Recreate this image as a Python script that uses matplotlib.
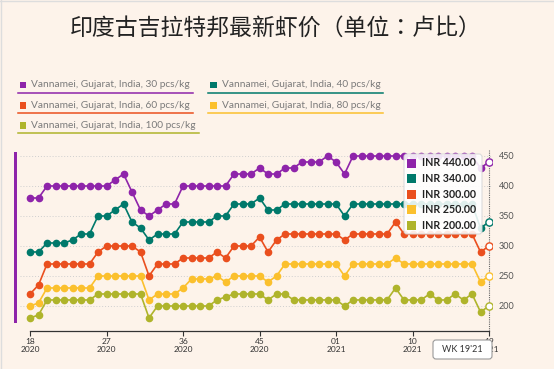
import matplotlib
matplotlib.use('Agg')
import matplotlib.pyplot as plt
from matplotlib.patches import FancyBboxPatch, Rectangle
from matplotlib.lines import Line2D

W, H = 554, 369
BG = '#fdf3ea'

# weekly index: wk18 2020 .. wk19 2021
weeks = list(range(18, 54)) + list(range(1, 20))
years = [2020] * 36 + [2021] * 19

price_30 = [380, 380, 400, 400, 400, 400, 400, 400, 400, 400, 410, 420, 390, 360, 350, 360,
            370, 370, 400, 400, 400, 400, 400, 400, 420, 420, 420, 430, 420, 420, 430, 430,
            440, 440, 440, 450, 440, 420] + [450] * 15 + [430, 440]
price_40 = [290, 290, 305, 305, 305, 310, 320, 320, 350, 350, 360, 370, 340, 330, 310, 320,
            320, 320, 340, 340, 340, 340, 350, 350, 370, 370, 370, 380, 360, 360] + [370] * 7 + \
           [350] + [370] * 15 + [330, 340]
price_60 = [220, 235, 270, 270, 270, 270, 270, 270, 290, 300, 300, 300, 300, 290, 250, 270,
            270, 270, 280, 280, 280, 280, 290, 280, 300, 300, 300, 315, 290, 310] + [320] * 7 + \
           [310, 320, 320, 320, 320, 320, 340] + [320] * 9 + [290, 300]
price_80 = [200, 205, 230, 230, 230, 230, 230, 230, 250, 250, 250, 250, 250, 250, 210, 220,
            220, 220, 230, 245, 245, 245, 250, 240, 250, 250, 250, 250, 240, 250] + [270] * 7 + \
           [250, 270, 270, 270, 270, 270, 280] + [270] * 9 + [240, 250]
price_100 = [180, 185, 210, 210, 210, 210, 210, 210, 220, 220, 220, 220, 220, 220, 180, 200,
             200, 200, 200, 200, 200, 200, 210, 215, 220, 220, 220, 220, 210, 220, 220] + [210] * 6 + \
            [200, 210, 210, 210, 210, 210, 230, 210, 210, 210, 220, 210, 210, 220, 210, 220, 190, 200]

series = [price_30, price_40, price_60, price_80, price_100]
names = ['Vannamei, Gujarat, India, 30 pcs/kg', 'Vannamei, Gujarat, India, 40 pcs/kg',
         'Vannamei, Gujarat, India, 60 pcs/kg', 'Vannamei, Gujarat, India, 80 pcs/kg',
         'Vannamei, Gujarat, India, 100 pcs/kg']
colors = ['#8e24aa', '#00796b', '#ea4f1e', '#fbc02d', '#afb42b']
yticks = [200, 250, 300, 350, 400, 450]
xtick_idx = [0, 9, 18, 27, 36, 45, 54]

plt.rcParams['font.family'] = ['Lato', 'DejaVu Sans']

fig = plt.figure(figsize=(W / 100, H / 100), dpi=100, facecolor=BG)


def inch(x, y):
    return x / 100, (H - y) / 100


# plot area
ax = fig.add_axes([20 / W, (H - 331) / H, (492 - 20) / W, (331 - 150) / H])
ax.set_facecolor(BG)
ax.set_xlim(-1.18, 54.35)
ax.set_ylim(158.3, 460)

n = len(price_30)
xs = list(range(n))
for s, c in zip(series, colors):
    ax.plot(xs, s, color=c, lw=1.2, marker='o', ms=4.5, markevery=list(range(n - 1)),
            mec=c, mfc=c, zorder=3)
    ax.plot([xs[-1]], [s[-1]], marker='o', ms=5.2, mfc='white', mec=c, mew=1, zorder=4)

ax.set_yticks(yticks)
ax.yaxis.tick_right()
ax.tick_params(axis='y', length=0, labelsize=6.5, labelcolor='#555555', pad=5)
ax.grid(axis='y', color='#cfcfcf', lw=0.7, linestyle=(0, (1, 2)))
ax.set_xticks(xtick_idx)
ax.set_xticklabels([f"{weeks[i]:02d}\n{years[i]}" for i in xtick_idx], linespacing=1.1)
ax.tick_params(axis='x', length=3.5, width=0.8, color='#333333', labelsize=6,
               labelcolor='#333333', pad=1.5)
for side in ['top', 'left', 'right']:
    ax.spines[side].set_visible(False)
ax.spines['bottom'].set_bounds(0, 54)
ax.spines['bottom'].set_color('#333333')
ax.spines['bottom'].set_linewidth(0.9)
ax.axvline(54, color='#666666', lw=0.8, linestyle=(0, (1, 1)), zorder=2)

# left accent bar
fig.add_artist(Rectangle(inch(14, 323), 0.03, (323 - 152) / 100, transform=fig.dpi_scale_trans,
                         facecolor=colors[0], edgecolor='none'))

# borders
fig.add_artist(Line2D([0, 1], [0.998, 0.998], transform=fig.transFigure, color='#dddddd', lw=1))
fig.add_artist(Line2D([0.001, 0.001], [0, 1], transform=fig.transFigure, color='#dddddd', lw=1))

# title
fig.text(276 / W, 1 - 28 / H, '印度古吉拉特邦最新虾价（单位：卢比）', ha='center', va='center',
         fontsize=16.5, color='#222222', family=['Noto Sans CJK TC', 'DejaVu Sans'])

# legend
leg_pos = [(19.5, 84.5), (210, 84.5), (19.5, 105), (210, 105), (19.5, 125)]
leg_texts = []
for (lx, ly), name, c in zip(leg_pos, names, colors):
    fig.add_artist(Rectangle(inch(lx, ly + 3.5), 0.065, 0.065, transform=fig.dpi_scale_trans,
                             facecolor=c, edgecolor='none'))
    t = fig.text(*inch(lx + 11.5, ly), name, transform=fig.dpi_scale_trans,
                 ha='left', va='center', fontsize=7.3, color='#7a7a7a')
    leg_texts.append(t)

fig.canvas.draw()
renderer = fig.canvas.get_renderer()
for (lx, ly), t, c in zip(leg_pos, leg_texts, colors):
    bb = t.get_window_extent(renderer)
    x0, y0 = inch(lx - 2, ly + 8)
    fig.add_artist(Line2D([x0, (bb.x1 + 3) / 100], [y0, y0], transform=fig.dpi_scale_trans,
                          color=c, lw=1.1))

# tooltip
fig.add_artist(FancyBboxPatch(inch(404, 234), 0.78, 0.80, transform=fig.dpi_scale_trans,
                              boxstyle='round,pad=0,rounding_size=0.03', facecolor='white',
                              edgecolor='#d8d8d8', lw=0.8, alpha=0.88, zorder=10))
for k, (s, c) in enumerate(zip(series, colors)):
    ry = 163 + 15.6 * k
    fig.add_artist(Rectangle(inch(407, ry + 4.5), 0.09, 0.09, transform=fig.dpi_scale_trans,
                             facecolor=c, edgecolor='none', zorder=11))
    fig.text(*inch(422, ry), f"INR {s[-1]:.2f}", transform=fig.dpi_scale_trans, ha='left',
             va='center', fontsize=7.7, fontweight='bold', color='#222222', zorder=11)

# week label
fig.add_artist(FancyBboxPatch(inch(433, 359), 0.59, 0.19, transform=fig.dpi_scale_trans,
                              boxstyle='round,pad=0,rounding_size=0.03', facecolor='white',
                              edgecolor='#999999', lw=0.8, zorder=10))
fig.text(*inch(462.5, 349.5), "WK 19'21", transform=fig.dpi_scale_trans, ha='center',
         va='center', fontsize=6.5, color='#333333', zorder=11)

fig.savefig('out.png', dpi=100, facecolor=BG)
